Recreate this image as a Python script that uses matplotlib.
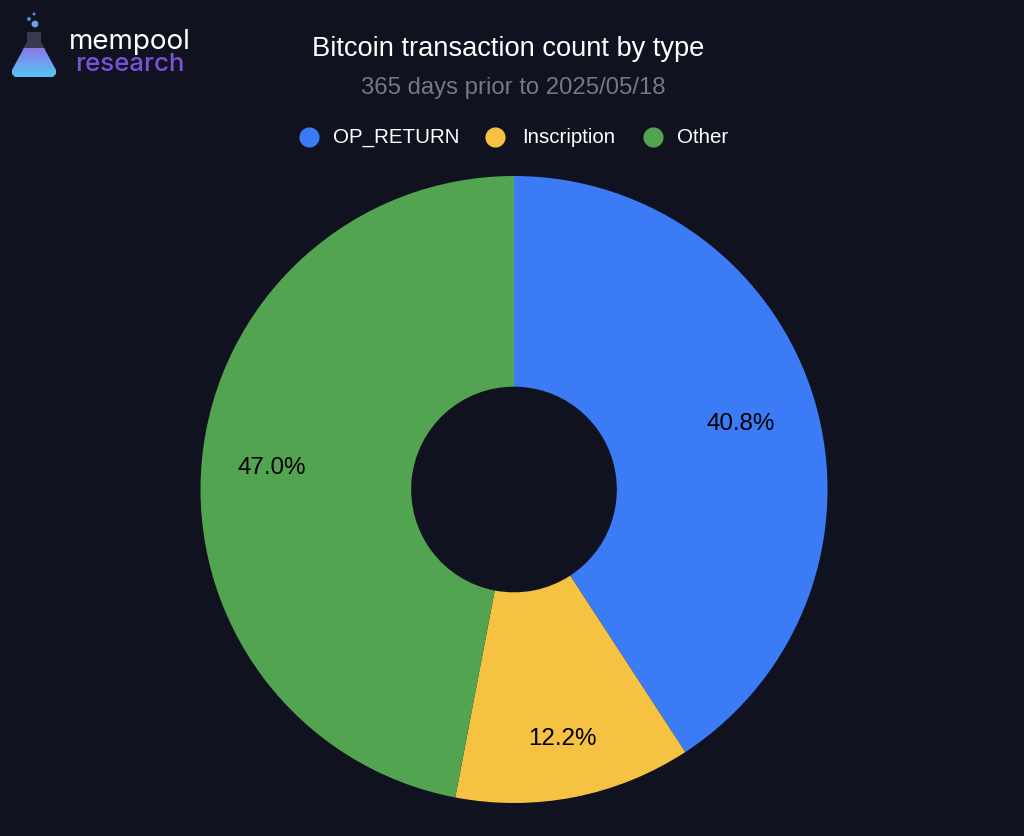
"""Bitcoin transaction count by type, donut chart."""

import matplotlib

matplotlib.use("Agg")
import matplotlib.pyplot as plt
import numpy as np
from matplotlib.colors import LinearSegmentedColormap
from matplotlib.patches import Circle, Polygon

categories = ["OP_RETURN", "Inscription", "Other"]
shares = [40.8, 12.2, 47.0]
colors = ["#3b7bf6", "#f5c242", "#53a451"]

W, H = 1024, 836
BG = "#10131f"

plt.rcParams["font.family"] = ["Liberation Sans", "DejaVu Sans"]


def draw_logo(ov):
    # glass part of the flask
    glass = [(27, 32), (41, 32), (41, 42), (46, 50), (22, 50), (27, 42)]
    ov.add_patch(Polygon(glass, closed=True, color="#363a4e", lw=0))

    # liquid, vertical gradient clipped to the flask shape
    cmap = LinearSegmentedColormap.from_list("liquid", ["#8a78e8", "#6fa0f0", "#58c4f2"])
    grad = np.linspace(0, 1, 64).reshape(-1, 1)
    im = ov.imshow(grad, cmap=cmap, extent=(10, 58, 77, 48), aspect="auto", zorder=2)
    liquid = Polygon([(24, 48), (44, 48), (56, 70), (56, 74), (53, 77), (15, 77), (12, 74), (12, 70)],
                     closed=True, transform=ov.transData, fc="none", lw=0)
    ov.add_patch(liquid)
    im.set_clip_path(liquid)
    ov.set_xlim(0, W)
    ov.set_ylim(H, 0)

    for x, y, r, c in [(35, 24, 3.4, "#6f9be8"), (29, 19, 1.9, "#5a8fd8"), (34, 14, 1.5, "#5a8fd8")]:
        ov.add_patch(Circle((x, y), r, color=c, lw=0))
    ov.text(69, 49, "mempool", color="white", fontsize=20, family="Inter", va="baseline", ha="left")
    ov.text(75, 71, "research", color="#7d50d8", fontsize=18.6, family="Inter", weight="medium",
            va="baseline", ha="left")


def draw_legend(ov):
    marker_x = [309, 495, 653]
    label_x = [333, 522, 677]
    for mx, lx, name, color in zip(marker_x, label_x, categories, colors):
        ov.scatter([mx], [137], s=210, color=color, linewidths=0)
        ov.text(lx, 143, name, color="white", fontsize=14.8, va="baseline", ha="left")


def main():
    fig = plt.figure(figsize=(W / 100, H / 100), dpi=100, facecolor=BG)

    # overlay in pixel coordinates for the header
    ov = fig.add_axes([0, 0, 1, 1])
    ov.set_xlim(0, W)
    ov.set_ylim(H, 0)
    ov.axis("off")
    draw_logo(ov)
    ov.text(508.5, 49.5, "Bitcoin transaction count by type", color="white", fontsize=19.6,
            ha="center", va="center")
    ov.text(513.5, 88, "365 days prior to 2025/05/18", color="#77787f", fontsize=17.2,
            ha="center", va="center")
    draw_legend(ov)

    cx, cy, r = 514, 489.5, 313.5
    ax = fig.add_axes([(cx - r) / W, 1 - (cy + r) / H, 2 * r / W, 2 * r / H])
    ax.set_facecolor("none")
    wedges, texts, autotexts = ax.pie(
        shares,
        colors=colors,
        startangle=90,
        counterclock=False,
        radius=1,
        autopct="%.1f%%",
        pctdistance=0.755,
        wedgeprops={"width": 1 - 103 / 314, "linewidth": 0},
        textprops={"color": "black", "fontsize": 17.4},
    )
    # labels sit at slightly different radii in the original
    for wedge, label, dist in zip(wedges, autotexts, [0.755, 0.805, 0.775]):
        mid = np.deg2rad((wedge.theta1 + wedge.theta2) / 2)
        label.set_position((dist * np.cos(mid), dist * np.sin(mid) - 0.005))
    ax.set_xlim(-1, 1)
    ax.set_ylim(-1, 1)

    fig.savefig("out.png", dpi=100, facecolor=BG)


if __name__ == "__main__":
    main()
